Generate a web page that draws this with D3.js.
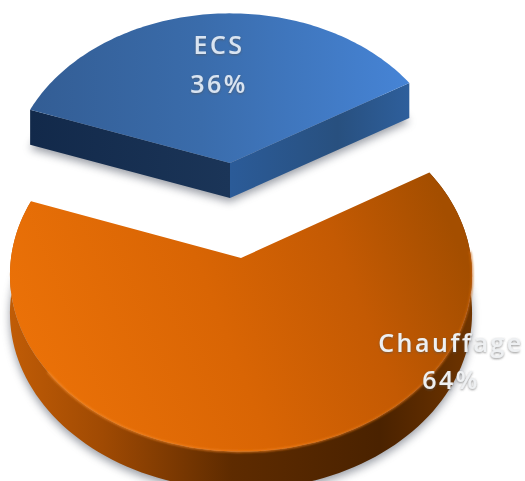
<!DOCTYPE html>
<html><head><meta charset="utf-8">
<script src="https://cdn.jsdelivr.net/npm/d3@7"></script>
<style>
html,body{margin:0;padding:0;background:#fff;overflow:hidden}
svg{display:block}
text{font-family:"Open Sans",Lato,sans-serif;font-size:25px;letter-spacing:2.5px;text-anchor:middle;font-weight:600}
</style></head><body>
<svg id="chart" width="525" height="481"></svg>
<script>
// Energy use split, drawn as an exploded pie in perspective.
const categories = ["ECS", "Chauffage"];
const shares = [36, 64];

const width = 525, height = 481;
const svg = d3.select("#chart");
const defs = svg.append("defs");

// Per-slice placement on the tilted plane.
const placement = {
  ECS:       {x: 230, y: 163, a: 219, b: 164, depth: 35},
  Chauffage: {x: 241, y: 258, a: 230, b: 175, depth: 38}
};
const tilt = 0.096;

const angles = d3.pie().value(d => d.share).sort(null)
  .startAngle(-70.4 * Math.PI / 180)
  .endAngle((360 - 70.4) * Math.PI / 180)(
    categories.map((name, i) => ({name, share: shares[i]})));

// Maps a polar position on the pie's plane to the screen.
function project(p, angle, r, lift = 0) {
  const u = r * Math.sin(angle), v = -r * Math.cos(angle);
  const w = 1 - tilt * v;
  return [p.x + p.a * u / w, p.y + p.b * v / w + lift];
}
const line = d3.line();
const arcPoints = (p, a0, a1, lift = 0) =>
  d3.range(0, 121).map(i => project(p, a0 + (a1 - a0) * i / 120, 1, lift));

function gradient(id, stops, x1 = 0, y1 = 0, x2 = 1, y2 = 0) {
  const g = defs.append("linearGradient").attr("id", id)
    .attr("x1", x1).attr("y1", y1).attr("x2", x2).attr("y2", y2);
  stops.forEach(([o, c]) => g.append("stop").attr("offset", o).attr("stop-color", c));
}
gradient("blueTop", [[0, "#335d94"], [0.45, "#3a6cab"], [1, "#4684d6"]]);
gradient("blueLeft", [[0, "#12294a"], [1, "#1b3558"]]);
gradient("blueRight", [[0, "#2b5b98"], [0.6, "#28507f"], [1, "#2e5f9c"]]);
gradient("orangeTop", [[0, "#ec7208"], [0.45, "#d96504"], [0.75, "#c45a03"], [1, "#a44e00"]], 0, 0.62, 1, 0.38);
gradient("orangeRim", [[0, "#c05c06"], [0.2, "#a04a03"], [0.48, "#5e2b00"], [0.8, "#4a2200"], [1, "#6e3400"]]);
gradient("lip", [[0, "#f58a2a"], [0.6, "#ee7d1c"], [1, "#c86410"]]);

defs.append("filter").attr("id", "soft").attr("x", "-10%").attr("y", "-10%").attr("width", "120%").attr("height", "120%")
  .append("feGaussianBlur").attr("stdDeviation", 4);
defs.append("filter").attr("id", "edge").attr("x", "-5%").attr("y", "-5%").attr("width", "110%").attr("height", "110%")
  .append("feGaussianBlur").attr("stdDeviation", 0.8);
const halo = defs.append("filter").attr("id", "halo").attr("x", "-20%").attr("y", "-30%").attr("width", "140%").attr("height", "160%");
halo.append("feDropShadow").attr("dx", 0).attr("dy", 1).attr("stdDeviation", 1.2)
  .attr("flood-color", "#555").attr("flood-opacity", 0.65);

const slices = svg.selectAll("g.slice").data(angles).join("g").attr("class", "slice");

slices.each(function(d) {
  const g = d3.select(this);
  const p = placement[d.data.name];
  const top = arcPoints(p, d.startAngle, d.endAngle);
  const apex = project(p, 0, 0);
  const ring = [apex, ...top];

  // Soft cast shadow beneath the solid.
  g.append("path")
    .attr("d", line(ring.map(([x, y]) => [x, y + p.depth + 4])) + "Z")
    .attr("fill", "#6f7480").attr("opacity", 0.7).attr("filter", "url(#soft)");

  if (d.data.name === "ECS") {
    const [left, right] = [top[0], top[top.length - 1]];
    const drop = ([x, y]) => [x, y + p.depth];
    g.append("path").attr("d", line([left, apex, drop(apex), drop(left)]) + "Z").attr("fill", "url(#blueLeft)");
    g.append("path").attr("d", line([apex, right, drop(right), drop(apex)]) + "Z").attr("fill", "url(#blueRight)");
    g.append("path").attr("d", line(ring) + "Z").attr("fill", "url(#blueTop)");
  } else {
    const lower = top.map(([x, y]) => [x, y + p.depth]).reverse();
    g.append("path").attr("d", line([...top, ...lower]) + "Z").attr("fill", "url(#orangeRim)");
    g.append("path").attr("d", line(ring) + "Z").attr("fill", "url(#orangeTop)");
    // Bright bevel along the front edge of the top face.
    g.append("path")
      .attr("d", line(arcPoints(p, d.startAngle + 0.5, d.endAngle - 1.0)))
      .attr("fill", "none").attr("stroke", "url(#lip)").attr("stroke-width", 1.6)
      .attr("filter", "url(#edge)");
  }
});

// Category and percentage labels.
const labelSpots = {ECS: [219, 54, 93], Chauffage: [451, 352, 389]};
angles.forEach(d => {
  const [x, y1, y2] = labelSpots[d.data.name];
  const fill = d.data.name === "ECS" ? "#d9e4f1" : "#eef0f2";
  const t = svg.append("g").attr("filter", "url(#halo)").attr("fill", fill);
  t.append("text").attr("x", x).attr("y", y1).text(d.data.name);
  t.append("text").attr("x", x).attr("y", y2).text(d.data.share + "%");
});
</script>
</body></html>
